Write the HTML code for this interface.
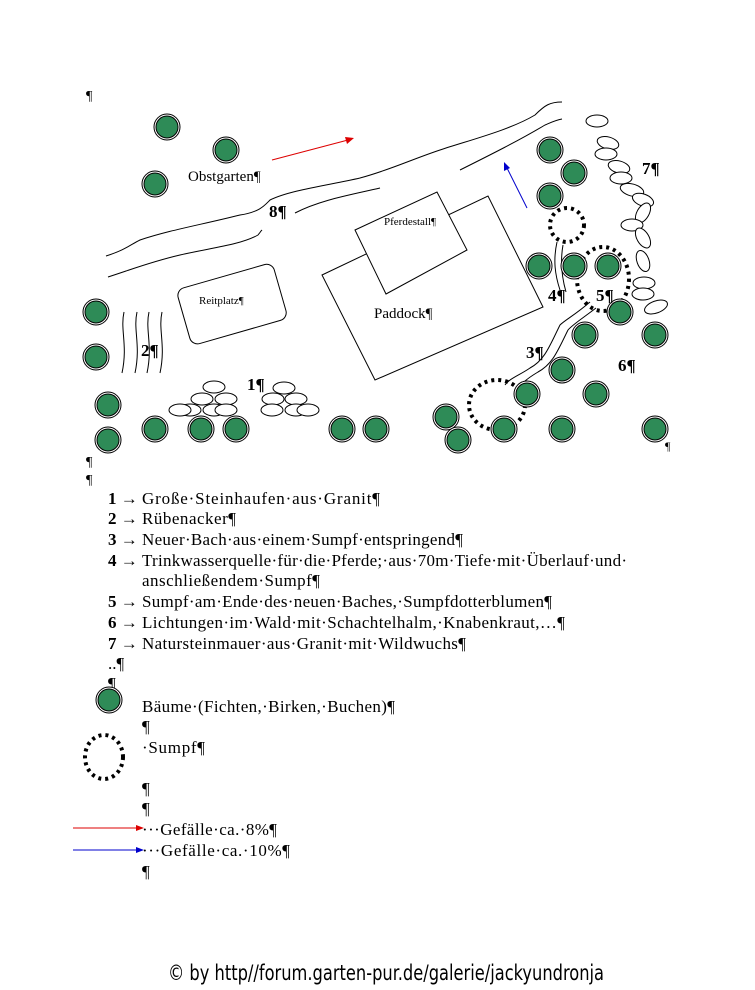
<!DOCTYPE html>
<html><head><meta charset="utf-8"><style>
html,body{margin:0;padding:0;background:#fff;}
svg{display:block}
text{font-family:"Liberation Serif",serif;fill:#000}
</style></head><body>
<svg width="755" height="990" viewBox="0 0 755 990" xmlns="http://www.w3.org/2000/svg">
<defs>
<g id="t"><circle r="13" fill="#fff" stroke="#000" stroke-width="1"/><circle r="11" fill="#2e8b57" stroke="#000" stroke-width="1"/></g>
<g id="r"><ellipse rx="11" ry="6" fill="#fff" stroke="#000" stroke-width="1"/></g>
</defs>
<text x="86" y="100" font-size="14">¶</text>
<path d="M106,256 C125,250 130,245 140,240 C170,230 200,225 240,215 C260,212 265,205 270,200 C290,190 330,185 360,178 C390,170 410,160 440,150 C470,140 510,130 535,115 C545,105 550,102 562,102" fill="none" stroke="#000"/>
<path d="M108,277 C130,270 150,262 180,255 C210,248 240,245 258,235 C262,230 260,232 262,230 M295,213 C320,200 350,195 380,188 M460,170 C490,155 520,140 545,125 C552,122 556,120 562,119" fill="none" stroke="#000"/>
<line x1="272" y1="160" x2="348" y2="140" stroke="#d00" stroke-width="1"/>
<polygon points="354,138 345,137 347,144" fill="#d00"/>
<line x1="527" y1="208" x2="507" y2="168" stroke="#00c" stroke-width="1"/>
<polygon points="504,162 504,171 510,168" fill="#00c"/>
<polygon points="322,275 488,196 543,307 375,380" fill="#fff" stroke="#000"/>
<polygon points="355,230 437,192 467,250 386,294" fill="#fff" stroke="#000"/>
<rect x="0" y="0" width="100" height="58" rx="8" transform="translate(176,290) rotate(-16)" fill="#fff" stroke="#000"/>
<text x="384" y="225" font-size="11">Pferdestall¶</text>
<text x="374" y="318" font-size="15">Paddock¶</text>
<text x="199" y="304" font-size="11">Reitplatz¶</text>
<text x="188" y="181" font-size="15">Obstgarten¶</text>
<path d="M124,312 C120,330 128,345 122,373 M137,312 C133,330 141,345 135,373 M149,312 C145,330 153,345 147,373 M162,312 C158,330 166,345 160,373" fill="none" stroke="#000"/>
<g>
<use href="#r" x="214" y="387"/><use href="#r" x="202" y="399"/><use href="#r" x="226" y="399"/>
<use href="#r" x="190" y="410"/><use href="#r" x="214" y="410"/><use href="#r" x="226" y="410"/>
<use href="#r" x="180" y="410"/>
<use href="#r" x="284" y="388"/><use href="#r" x="273" y="399"/><use href="#r" x="296" y="399"/>
<use href="#r" x="272" y="410"/><use href="#r" x="296" y="410"/><use href="#r" x="308" y="410"/>
</g>
<g fill="#fff" stroke="#000">
<ellipse cx="597" cy="121" rx="11" ry="6"/>
<ellipse cx="608" cy="143" rx="11" ry="6" transform="rotate(15 608 143)"/>
<ellipse cx="606" cy="154" rx="11" ry="6"/>
<ellipse cx="619" cy="167" rx="11" ry="6" transform="rotate(15 619 167)"/>
<ellipse cx="621" cy="178" rx="11" ry="6"/>
<ellipse cx="632" cy="190" rx="12" ry="6" transform="rotate(15 632 190)"/>
<ellipse cx="643" cy="200" rx="11" ry="6" transform="rotate(20 643 200)"/>
<ellipse cx="643" cy="213" rx="11" ry="6" transform="rotate(-60 643 213)"/>
<ellipse cx="632" cy="225" rx="11" ry="6"/>
<ellipse cx="643" cy="238" rx="11" ry="6" transform="rotate(60 643 238)"/>
<ellipse cx="643" cy="261" rx="11" ry="6" transform="rotate(70 643 261)"/>
<ellipse cx="644" cy="283" rx="11" ry="6"/>
<ellipse cx="643" cy="294" rx="11" ry="6"/>
<ellipse cx="656" cy="307" rx="12" ry="6" transform="rotate(-20 656 307)"/>
</g>
<g fill="none" stroke="#000" stroke-width="4" stroke-dasharray="3,4">
<circle cx="567" cy="225" r="17"/>
<ellipse cx="603" cy="279" rx="26" ry="32"/>
<ellipse cx="497" cy="405" rx="28" ry="25"/>
</g>
<path d="M557,242 C553,260 555,275 560,290 M563,245 C560,262 562,278 566,292 M590,302 C575,315 565,320 560,325 C550,345 545,360 530,368 C520,375 510,378 505,385 M596,308 C583,318 572,325 568,330 C558,350 553,364 538,372 C528,378 518,385 515,395" fill="none" stroke="#000" stroke-width="1"/>
<g>
<use href="#t" x="167" y="127"/><use href="#t" x="226" y="150"/><use href="#t" x="155" y="184"/>
<use href="#t" x="550" y="150"/><use href="#t" x="574" y="173"/><use href="#t" x="550" y="196"/>
<use href="#t" x="539" y="266"/><use href="#t" x="574" y="266"/><use href="#t" x="608" y="266"/>
<use href="#t" x="620" y="312"/><use href="#t" x="655" y="335"/><use href="#t" x="585" y="335"/>
<use href="#t" x="96" y="312"/><use href="#t" x="96" y="357"/><use href="#t" x="108" y="405"/>
<use href="#t" x="108" y="440"/><use href="#t" x="155" y="429"/><use href="#t" x="201" y="429"/>
<use href="#t" x="236" y="429"/><use href="#t" x="342" y="429"/><use href="#t" x="376" y="429"/>
<use href="#t" x="446" y="417"/><use href="#t" x="458" y="440"/><use href="#t" x="504" y="429"/>
<use href="#t" x="527" y="394"/><use href="#t" x="562" y="370"/><use href="#t" x="596" y="394"/>
<use href="#t" x="655" y="429"/><use href="#t" x="562" y="429"/>
</g>
<g font-size="17" font-weight="bold">
<text x="269" y="217">8¶</text><text x="141" y="356">2¶</text><text x="247" y="390">1¶</text>
<text x="526" y="358">3¶</text><text x="548" y="301">4¶</text><text x="596" y="301">5¶</text>
<text x="618" y="371">6¶</text><text x="642" y="174">7¶</text>
</g>
<text x="665" y="450" font-size="12">¶</text>
<text x="86" y="466" font-size="14">¶</text>
<text x="86" y="484" font-size="14">¶</text>
<g font-size="17">
<text x="108" y="504"><tspan font-weight="bold">1</tspan> → </text><text x="142" y="504" textLength="238" lengthAdjust="spacing">Große·Steinhaufen·aus·Granit¶</text>
<text x="108" y="524"><tspan font-weight="bold">2</tspan> → </text><text x="142" y="524" textLength="94" lengthAdjust="spacing">Rübenacker¶</text>
<text x="108" y="545"><tspan font-weight="bold">3</tspan> → </text><text x="142" y="545" textLength="321" lengthAdjust="spacing">Neuer·Bach·aus·einem·Sumpf·entspringend¶</text>
<text x="108" y="566"><tspan font-weight="bold">4</tspan> → </text><text x="142" y="566" textLength="485" lengthAdjust="spacing">Trinkwasserquelle·für·die·Pferde;·aus·70m·Tiefe·mit·Überlauf·und·</text>
<text x="142" y="586" textLength="178" lengthAdjust="spacing">anschließendem·Sumpf¶</text>
<text x="108" y="607"><tspan font-weight="bold">5</tspan> → </text><text x="142" y="607" textLength="410" lengthAdjust="spacing">Sumpf·am·Ende·des·neuen·Baches,·Sumpfdotterblumen¶</text>
<text x="108" y="628"><tspan font-weight="bold">6</tspan> → </text><text x="142" y="628" textLength="423" lengthAdjust="spacing">Lichtungen·im·Wald·mit·Schachtelhalm,·Knabenkraut,…¶</text>
<text x="108" y="649"><tspan font-weight="bold">7</tspan> → </text><text x="142" y="649" textLength="324" lengthAdjust="spacing">Natursteinmauer·aus·Granit·mit·Wildwuchs¶</text>
<text x="108" y="669">..¶</text>
<text x="108" y="689">¶</text>
<text x="142" y="712" textLength="253" lengthAdjust="spacing">Bäume·(Fichten,·Birken,·Buchen)¶</text>
<text x="142" y="732">¶</text>
<text x="142" y="753" textLength="63" lengthAdjust="spacing">·Sumpf¶</text>
<text x="142" y="794">¶</text>
<text x="142" y="814">¶</text>
<text x="142" y="835" textLength="135" lengthAdjust="spacing">···Gefälle·ca.·8%¶</text>
<text x="142" y="856" textLength="148" lengthAdjust="spacing">···Gefälle·ca.·10%¶</text>
<text x="142" y="877">¶</text>
</g>
<use href="#t" x="109" y="700"/>
<ellipse cx="104" cy="757" rx="19" ry="22" fill="none" stroke="#000" stroke-width="4" stroke-dasharray="3,4"/>
<line x1="73" y1="828" x2="138" y2="828" stroke="#d00"/><polygon points="144,828 136,825 136,831" fill="#d00"/>
<line x1="73" y1="850" x2="138" y2="850" stroke="#00c"/><polygon points="144,850 136,847 136,853" fill="#00c"/>
<text x="386" y="980" font-size="21" text-anchor="middle" style="font-family:'DejaVu Sans Condensed','Liberation Sans Narrow','Liberation Sans',sans-serif" textLength="436" lengthAdjust="spacingAndGlyphs">© by http//forum.garten-pur.de/galerie/jackyundronja</text>
</svg>
</body></html>
